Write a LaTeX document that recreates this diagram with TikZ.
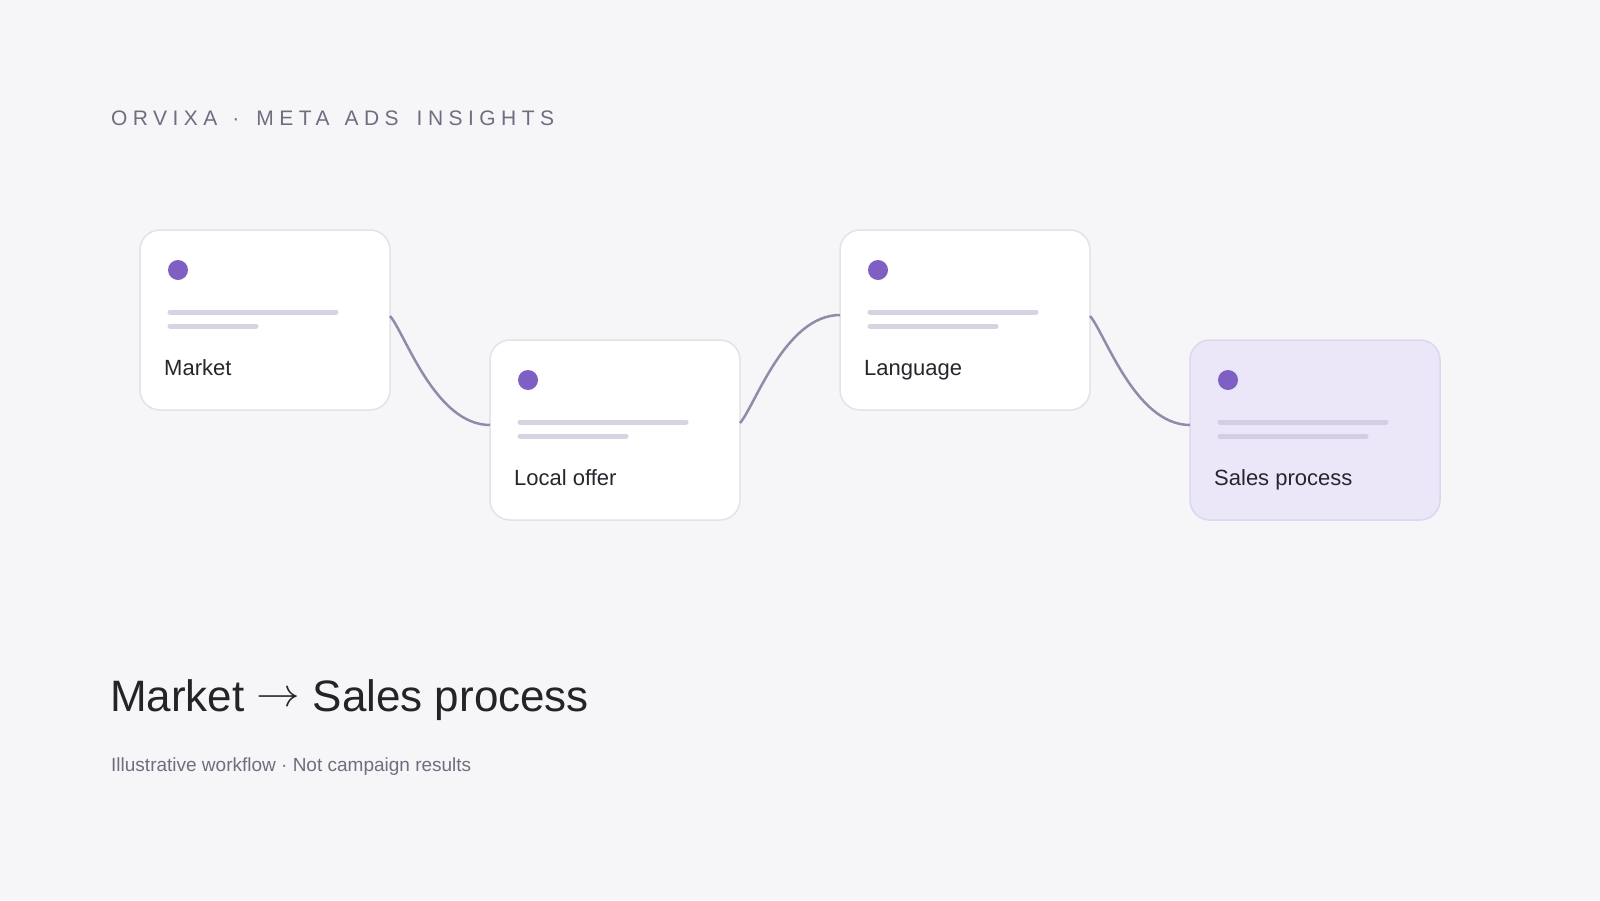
\documentclass[tikz,border=0pt]{standalone}
\usepackage{fontspec}
\setmainfont{Liberation Sans}
\definecolor{bgc}{HTML}{F6F6F9}
\definecolor{cardedge}{HTML}{E2E2E9}
\definecolor{hlfill}{HTML}{ECE7F8}
\definecolor{hledge}{HTML}{DCD6EE}
\definecolor{dotc}{HTML}{7E5FC4}
\definecolor{phc}{HTML}{D6D4E2}
\definecolor{phhl}{HTML}{D3CEE4}
\definecolor{connc}{HTML}{8F8BA8}
\definecolor{titlec}{HTML}{6E6E80}
\definecolor{headc}{HTML}{242428}
\definecolor{subc}{HTML}{6E6E7E}
\definecolor{lblc}{HTML}{26262C}
\begin{document}
\begin{tikzpicture}[x=1pt,y=-1pt,
  card/.style={draw=cardedge, fill=white, line width=1.5pt, rounded corners=20pt,
    minimum width=250pt, minimum height=180pt, inner sep=0pt, outer sep=0pt, anchor=north west},
  hlcard/.style={card, draw=hledge, fill=hlfill},
  dotmark/.style={circle, fill=dotc, minimum size=20pt, inner sep=0pt},
  ph/.style={draw=phc, line width=5pt, line cap=round},
  phh/.style={ph, draw=phhl},
  lbl/.style={text=lblc, font=\fontsize{22}{26}\selectfont, inner sep=0pt, anchor=base west},
  conn/.style={draw=connc, line width=2.5pt}
]
\useasboundingbox (0,0) rectangle (1600,900);
\fill[bgc] (0,0) rectangle (1600,900);

% title
\node[anchor=base west, inner sep=0pt, text=titlec, font=\fontsize{21}{25}\selectfont\addfontfeature{LetterSpace=26}] (title) at (111,125) {ORVIXA\hspace{15pt}·\hspace{17pt}META\hspace{15pt}ADS\hspace{18pt}INSIGHTS};

% cards
\node[card] (c1) at (140,230) {};
\node[card] (c2) at (490,340) {};
\node[card] (c3) at (840,230) {};
\node[hlcard] (c4) at (1190,340) {};

% dots
\node[dotmark] (d1) at ([shift={(38,40)}]c1.north west) {};
\node[dotmark] (d2) at ([shift={(38,40)}]c2.north west) {};
\node[dotmark] (d3) at ([shift={(38,40)}]c3.north west) {};
\node[dotmark] (d4) at ([shift={(38,40)}]c4.north west) {};

% placeholder lines
\draw[ph] ([shift={(30,82)}]c1.north west) -- ++(166,0);
\draw[ph] ([shift={(30,96)}]c1.north west) -- ++(86,0);
\draw[ph] ([shift={(30,82)}]c2.north west) -- ++(166,0);
\draw[ph] ([shift={(30,96)}]c2.north west) -- ++(106,0);
\draw[ph] ([shift={(30,82)}]c3.north west) -- ++(166,0);
\draw[ph] ([shift={(30,96)}]c3.north west) -- ++(126,0);
\draw[phh] ([shift={(30,82)}]c4.north west) -- ++(166,0);
\draw[phh] ([shift={(30,96)}]c4.north west) -- ++(146,0);

% labels
\node[lbl] (l1) at ([shift={(24,145)}]c1.north west) {Market};
\node[lbl] (l2) at ([shift={(24,145)}]c2.north west) {Local offer};
\node[lbl] (l3) at ([shift={(24,145)}]c3.north west) {Language};
\node[lbl] (l4) at ([shift={(24,145)}]c4.north west) {Sales process};

% connectors
\draw[conn] ([yshift=4pt]c1.east) .. controls +(15,17) and +(-55,0) .. ([yshift=5pt]c2.west);
\draw[conn] ([yshift=7pt]c2.east) .. controls +(15,-17) and +(-55,0) .. ([yshift=5pt]c3.west);
\draw[conn] ([yshift=4pt]c3.east) .. controls +(15,17) and +(-55,0) .. ([yshift=5pt]c4.west);

% heading and subtitle
\node[anchor=base west, inner sep=0pt, text=headc, font=\fontsize{44}{52}\selectfont] (head) at (110,711) {Market \raisebox{5pt}{\scalebox{1.75}[1.6]{$\rightarrow$}} Sales process};
\node[anchor=base west, inner sep=0pt, text=subc, font=\fontsize{19}{23}\selectfont] (sub) at (111,771) {Illustrative workflow · Not campaign results};
\end{tikzpicture}
\end{document}
